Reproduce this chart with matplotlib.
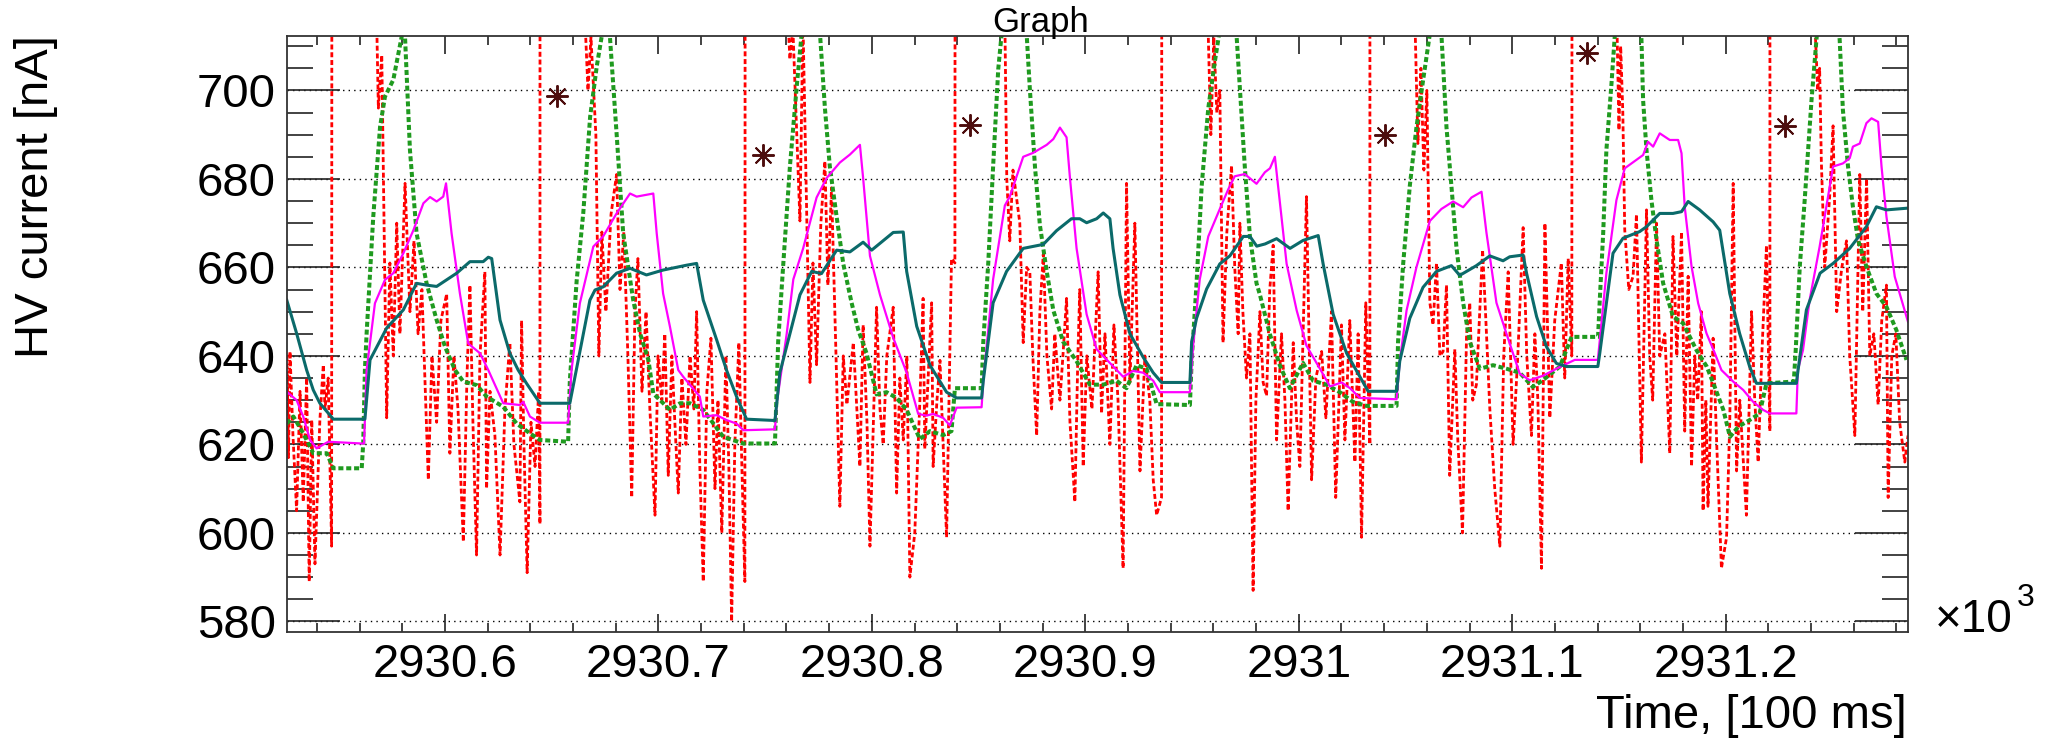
import matplotlib
matplotlib.use("Agg")
import matplotlib.pyplot as plt
from matplotlib.ticker import MultipleLocator, FuncFormatter
import numpy as np

plt.rcParams['font.family'] = ['Liberation Sans', 'DejaVu Sans']

# time origin, in units of 100 ms; series times are offsets from it
T0 = 2930000

# channel 1 (red, dotted): raw readings, with a reset spike every cycle
red_t = ([526.0, 526.7, 527.4, 528.8, 530.5, 532.1, 533.6, 535.2, 536.4, 537.6, 539.1, 541.4, 543.0, 543.8, 545.3, 546.9, 547.7]
         + [568.0, 568.8, 570.4, 572.7, 574.2, 575.8, 577.4, 578.9, 581.3, 583.6, 585.5, 587.4, 589.2, 592.2, 593.9, 596.1,
            598.1, 600.8, 602.3, 604.2, 606.1, 608.6, 610.3, 611.7, 613.1, 614.8, 616.4, 618.7, 619.5, 621.1, 623.4, 625.8,
            628.1, 630.4, 632.3, 635.1, 635.9, 637.0, 638.5, 640.3, 642.2, 643.9, 644.5, 644.7]
         + [665.6, 667.0, 668.4, 670.7, 672.1, 673.5, 675.4, 677.8, 680.4, 682.0, 683.8, 685.7, 687.5, 689.0, 690.4, 692.3,
            694.2, 696.0, 698.4, 699.8, 701.6, 703.0, 704.6, 706.3, 707.7, 709.3, 711.0, 712.9, 714.8, 716.6, 717.9, 719.4,
            721.0, 722.7, 724.6, 726.5, 727.9, 729.7, 731.6, 733.0, 734.3, 735.8, 737.7, 739.1, 740.5, 741.3]
         + [760.7, 761.6, 763.0, 766.3, 767.7, 771.0, 772.4, 774.1, 776.1, 778.0, 779.4, 781.1, 783.2, 785.0, 786.6, 788.3,
            791.3, 794.4, 795.9, 797.7, 799.1, 802.2, 803.8, 805.3, 807.0, 810.0, 811.6, 813.1, 814.7, 816.4, 817.8, 820.1,
            822.5, 824.0, 824.8, 828.0, 828.7, 830.5, 831.9, 835.0, 837.3, 838.9, 839.8]
         + [862.3, 863.2, 864.6, 866.1, 869.3, 870.9, 872.5, 874.0, 875.4, 877.2, 878.7, 880.3, 882.0, 884.2, 885.7, 888.1,
            889.5, 891.2, 892.8, 895.1, 896.5, 897.4, 899.0, 900.7, 903.1, 906.0, 907.6, 909.2, 911.5, 913.4, 915.3, 917.7,
            919.3, 920.9, 923.2, 925.6, 927.9, 930.2, 931.8, 933.4, 935.7, 936.5]
         + [957.4, 958.8, 960.2, 961.6, 963.0, 964.5, 966.3, 968.5, 970.0, 971.6, 972.4, 973.8, 975.5, 977.1, 978.6, 979.9,
            981.8, 983.3, 984.9, 986.4, 988.0, 989.6, 991.9, 993.5, 995.0, 997.4, 999.0, 1000.5, 1003.6, 1006.0, 1008.0,
            1010.7, 1012.7, 1015.3, 1017.3, 1020.0, 1021.6, 1023.9, 1026.3, 1027.8, 1029.4, 1031.4, 1033.3, 1033.5]
         + [1054.4, 1055.8, 1057.2, 1058.6, 1060.0, 1061.4, 1062.9, 1064.5, 1066.1, 1067.6, 1069.2, 1070.7, 1073.1, 1074.5,
            1076.7, 1078.6, 1080.1, 1081.5, 1083.2, 1086.1, 1087.6, 1089.5, 1091.8, 1094.2, 1096.0, 1098.1, 1100.4, 1102.6,
            1105.1, 1106.8, 1109.0, 1110.6, 1112.0, 1113.7, 1115.3, 1117.6, 1119.9, 1123.0, 1124.6, 1126.2, 1127.9, 1128.8]
         + [1149.0, 1150.0, 1150.8, 1151.8, 1152.7, 1154.6, 1156.6, 1158.2, 1160.5, 1162.9, 1164.4, 1165.8, 1167.6, 1169.1,
            1171.5, 1173.8, 1175.3, 1177.1, 1179.3, 1180.8, 1182.4, 1184.0, 1185.5, 1186.9, 1188.6, 1189.4, 1190.7, 1191.7,
            1194.1, 1195.8, 1198.0, 1200.4, 1201.9, 1203.5, 1205.1, 1206.6, 1209.7, 1212.1, 1213.6, 1215.2, 1216.9, 1219.1,
            1220.7, 1220.9]
         + [1241.7, 1243.1, 1244.0, 1244.8, 1246.4, 1248.7, 1250.3, 1252.0, 1254.4, 1256.6, 1258.1, 1260.5, 1262.8, 1264.2,
            1266.0, 1267.5, 1269.4, 1271.4, 1273.1, 1275.3, 1276.1, 1277.8, 1279.7, 1281.5, 1283.9, 1285.4])
red_v = ([640, 617, 641, 622, 605, 632, 607, 635, 589, 625.5, 593, 625.5, 638, 628, 635, 597, 1500]
         + [716, 696, 708, 626, 661, 640, 670, 645, 679, 650, 666, 645, 655, 612, 640, 625, 648, 654, 618, 640, 628, 598,
            635, 656, 625, 595, 640, 659, 610, 632, 622, 595, 628, 643, 620, 607, 648, 620, 591, 625, 615, 632, 602, 1500]
         + [716, 700, 712, 690, 640, 668, 650, 672, 681, 655, 668, 640, 608, 650, 662, 632, 650, 628, 604, 640, 630, 645,
            613, 640, 625, 609, 635, 620, 640, 628, 650, 615, 589, 632, 644, 610, 630, 600, 640, 615, 580, 620, 643, 615,
            589, 1500]
         + [716, 707, 714, 670.5, 716, 634, 661, 638, 670, 684, 656, 678, 640, 606, 640, 629, 643, 615, 647, 625, 597, 651,
            628, 620, 640, 651, 609, 635, 621, 640, 590, 600, 630, 653, 619, 652, 615, 630, 639, 599, 662, 661, 1500]
         + [716, 680, 666, 682, 670, 643, 660, 659, 640, 622, 650, 663, 640, 628, 645, 630, 640, 653, 625, 607, 640, 655,
            615, 640, 628, 659, 627, 645, 620, 647, 630, 592, 679, 634, 670, 614, 640, 630, 612, 604, 608, 1500]
         + [716, 690, 712, 695, 700, 643, 668, 683, 660, 645, 670, 650, 635, 645, 587, 630, 650, 634, 631, 655, 665, 621,
            645, 630, 605, 643, 625, 615, 676, 612, 635, 641, 626, 650, 608, 647, 621, 648, 616, 645, 599, 652, 620, 1500]
         + [716, 688, 705, 682, 700, 652, 647, 661, 640, 641, 656, 613, 641.5, 621, 600, 645, 652, 630, 633.5, 664, 648.5,
            628, 610, 597, 640, 659, 620, 640, 669, 640, 622, 645, 630, 592, 670, 626, 648, 661, 635, 662, 640, 1500]
         + [716, 691, 710, 695, 668.5, 655, 658, 672, 616, 673, 640, 630, 670, 640, 645, 618, 667, 640, 668, 623, 658, 615,
            640, 630, 650, 605, 630, 606, 644, 620, 592, 599, 625, 679, 614, 630, 604, 650, 630, 616, 640, 665, 623, 1500]
         + [716, 700, 705, 684, 660, 676, 692, 650, 660, 666, 640, 622, 681, 650, 680, 640, 645, 629, 648, 656, 608, 640,
            645, 625, 616, 622])

# channel 2 (green, thick dotted)
green_t = ([525.9, 529.0, 533.6, 538.3, 544.6, 547.7, 561.0]
           + [561.7, 562.5, 563.3, 566.4, 569.6, 571.9, 575.8, 579.7, 580.5, 581.3, 583.6, 586.7, 591.4, 596.1, 600.0,
              604.7, 608.6, 614.9, 619.5, 627.3, 633.6, 639.8, 644.5, 657.7]
           + [658.5, 661.7, 664.8, 668.0, 671.1, 673.4, 675.3, 677.3, 680.4, 683.5, 688.2, 691.4, 695.3, 697.6, 705.4,
              710.1, 714.8, 721.0, 730.4, 739.8, 754.6]
           + [756.1, 758.5, 761.6, 764.7, 767.1, 771.0, 775.7, 778.0, 780.3, 783.5, 786.6, 790.5, 793.6, 797.5, 802.2,
              806.9, 811.6, 816.3, 822.5, 827.2, 833.4, 837.3, 838.9, 851.4]
           + [852.2, 854.5, 856.8, 859.2, 860.8, 866.5, 872.5, 874.0, 876.4, 878.7, 881.9, 885.0, 889.6, 895.9, 902.1,
              908.4, 914.6, 919.3, 924.0, 928.7, 933.4, 949.0]
           + [949.8, 952.1, 954.5, 957.6, 960.7, 962.7, 966.8, 970.8, 972.4, 974.7, 977.1, 980.2, 981.8, 986.4, 991.1,
              995.8, 1002.0, 1006.7, 1013.0, 1019.2, 1025.4, 1031.7, 1045.8]
           + [1046.5, 1048.9, 1052.0, 1055.1, 1058.2, 1061.4, 1064.2, 1066.8, 1069.2, 1071.5, 1073.9, 1077.0, 1080.1,
              1084.8, 1091.0, 1097.3, 1103.5, 1109.6, 1114.3, 1122.3, 1127.8, 1140.2]
           + [1141.0, 1142.6, 1144.1, 1146.5, 1148.0, 1154.1, 1160.5, 1161.3, 1162.9, 1165.2, 1167.6, 1170.7, 1175.3,
              1180.0, 1186.3, 1191.1, 1194.2, 1198.9, 1202.0, 1205.9, 1211.2, 1215.9, 1219.1, 1231.9]
           + [1232.8, 1234.7, 1237.0, 1240.2, 1242.5, 1247.8, 1253.4, 1254.9, 1257.3, 1259.6, 1262.0, 1265.9, 1270.6,
              1275.3, 1279.9, 1284.7])
green_v = ([624.7, 626.3, 622.5, 618.0, 618.0, 614.6, 614.6]
           + [620.2, 636.8, 645.1, 671.4, 691.8, 698.6, 702.4, 712.1, 716.0, 712.0, 686.5, 667.7, 656.4, 648.1, 642.1,
              636.8, 634.2, 633.4, 630.8, 628.5, 624.7, 622.5, 621.0, 620.6]
           + [634.4, 657.0, 672.3, 694.0, 705.4, 712.1, 722.0, 712.0, 690.3, 667.7, 652.6, 645.1, 639.1, 631.5, 627.8,
              629.3, 629.3, 627.8, 621.7, 620.2, 620.2]
           + [643.2, 660.8, 682.8, 700.4, 712.8, 735.0, 712.8, 696.0, 682.8, 671.4, 660.8, 652.0, 645.9, 640.6, 631.3,
              631.8, 630.5, 627.8, 621.2, 623.0, 622.1, 623.0, 632.7, 632.7]
           + [643.2, 660.8, 682.8, 704.8, 712.8, 745.0, 712.8, 700.4, 682.8, 669.6, 659.1, 650.3, 643.2, 638.8, 633.5,
              633.5, 634.4, 632.7, 637.9, 637.1, 629.1, 628.9]
           + [638.8, 656.4, 678.4, 696.0, 706.6, 712.8, 730.0, 712.8, 700.4, 682.8, 667.0, 656.4, 653.8, 645.0, 637.9,
              632.7, 638.4, 634.4, 633.5, 631.8, 629.6, 628.7, 628.7]
           + [643.2, 660.8, 678.4, 691.6, 702.2, 712.8, 722.0, 712.8, 691.6, 678.4, 664.3, 652.0, 643.2, 637.1, 637.9,
              637.1, 636.2, 633.0, 634.5, 637.6, 644.3, 644.3]
           + [652.6, 667.7, 686.5, 701.6, 712.1, 750.0, 712.1, 697.8, 686.5, 675.2, 666.2, 656.4, 648.9, 647.4, 641.3,
              637.6, 633.8, 627.8, 621.7, 624.0, 625.5, 627.0, 633.8, 634.2]
           + [641.3, 660.2, 675.2, 697.8, 711.4, 740.0, 711.4, 695.6, 682.8, 673.7, 666.2, 660.2, 654.1, 651.1, 645.9,
              639.1])

# channel 3 (magenta, solid)
magenta_t = ([525.9, 530.5, 533.6, 536.8, 539.9, 545.3, 561.0]
             + [562.1, 563.3, 567.2, 571.9, 575.8, 580.5, 585.2, 589.9, 593.0, 596.1, 599.2, 600.5, 603.1, 607.0,
                610.9, 616.4, 620.3, 627.3, 635.1, 636.7, 639.8, 644.5, 657.7]
             + [659.3, 663.2, 669.5, 674.1, 680.4, 686.7, 689.8, 697.6, 699.2, 702.2, 705.4, 709.3, 711.6, 719.4,
                721.0, 727.3, 731.9, 736.6, 739.8, 754.6]
             + [755.4, 760.1, 763.2, 767.8, 774.1, 778.8, 785.0, 789.7, 794.4, 795.9, 799.1, 803.8, 810.0, 816.3,
                821.7, 825.6, 828.7, 833.4, 836.5, 839.7, 851.4]
             + [852.2, 856.8, 862.3, 864.6, 870.9, 875.6, 881.9, 885.0, 888.1, 891.2, 892.8, 895.9, 900.6, 905.3,
                911.5, 917.7, 922.4, 927.1, 931.8, 934.9, 949.0]
             + [950.5, 953.6, 957.6, 963.0, 966.9, 970.0, 974.7, 980.2, 984.1, 986.5, 988.8, 990.3, 994.3, 999.0,
                1003.6, 1009.9, 1014.6, 1020.1, 1024.0, 1028.6, 1045.8]
             + [1047.3, 1050.5, 1055.1, 1061.4, 1066.8, 1072.3, 1077.0, 1080.9, 1085.6, 1087.9, 1092.6, 1097.3,
                1103.5, 1108.2, 1114.3, 1122.3, 1129.3, 1140.1]
             + [1144.1, 1148.8, 1152.7, 1158.2, 1161.3, 1163.6, 1166.0, 1169.1, 1173.8, 1177.7, 1179.3, 1180.8,
                1184.0, 1187.1, 1191.0, 1194.9, 1198.0, 1203.5, 1208.2, 1212.9, 1217.5, 1220.7, 1233.1]
             + [1233.8, 1236.2, 1239.3, 1244.0, 1250.3, 1254.9, 1258.1, 1259.6, 1262.8, 1265.9, 1268.3, 1271.4,
                1273.0, 1275.3, 1279.2, 1285.4])
magenta_v = ([631.9, 630.0, 626.3, 621.0, 619.1, 620.6, 620.2]
             + [620.2, 636.8, 651.9, 657.2, 658.7, 663.2, 668.4, 674.5, 675.9, 674.9, 676.0, 679.0, 667.7, 654.1,
                642.8, 640.6, 636.8, 629.3, 628.9, 629.6, 626.3, 624.9, 624.9]
             + [636.8, 651.9, 664.7, 667.0, 672.2, 676.7, 676.0, 676.7, 667.7, 654.1, 646.6, 636.8, 635.3, 630.8,
                626.3, 626.6, 625.5, 624.7, 623.2, 623.4]
             + [629.1, 645.0, 657.3, 664.3, 675.8, 680.2, 683.7, 685.5, 687.7, 680.2, 662.6, 653.8, 644.1, 636.2,
                626.9, 626.5, 626.9, 626.0, 624.3, 628.3, 628.4]
             + [634.4, 657.3, 674.0, 676.0, 685.0, 685.9, 687.7, 689.0, 691.6, 689.4, 680.2, 664.3, 649.4, 641.5,
                638.4, 635.3, 636.6, 636.2, 634.4, 631.8, 631.8]
             + [642.3, 657.3, 667.0, 673.2, 677.6, 680.6, 681.1, 678.9, 681.5, 682.4, 685.0, 678.4, 660.8, 650.3,
                642.3, 637.1, 633.1, 634.0, 632.7, 630.5, 630.2]
             + [638.8, 650.3, 660.0, 670.5, 673.2, 674.9, 673.6, 675.8, 677.1, 667.9, 652.0, 645.0, 636.0, 634.5,
                635.5, 637.5, 639.1, 639.1]
             + [658.7, 675.2, 682.4, 684.3, 685.4, 688.4, 687.3, 690.3, 688.8, 688.8, 685.8, 673.7, 660.2, 651.9,
                645.1, 640.6, 636.8, 634.2, 632.3, 629.6, 627.8, 627.0, 627.0]
             + [636.8, 641.3, 652.6, 664.7, 682.8, 683.5, 684.7, 687.3, 688.0, 692.6, 693.7, 692.9, 682.8, 671.5,
                657.9, 647.7])

# channel 4 (teal, solid)
teal_t = ([525.9, 530.5, 535.2, 538.3, 541.4, 547.7, 561.0, 562.5, 564.9, 572.7, 580.5, 586.7, 591.4, 596.1, 605.5,
           611.7, 617.9, 620.3, 621.9, 625.8, 630.4, 634.3, 638.2, 644.5, 657.7]
          + [658.5, 667.9, 670.3, 674.1, 680.4, 686.7, 694.4, 702.2, 713.2, 717.9, 721.0, 727.3, 731.9, 736.6, 741.3,
             754.6]
          + [756.9, 761.6, 766.3, 771.8, 776.4, 783.5, 789.7, 795.9, 799.9, 810.0, 814.7, 816.3, 821.0, 827.2, 835.0,
             839.7, 851.4]
          + [852.2, 856.8, 863.1, 870.9, 880.3, 886.5, 893.5, 897.4, 900.6, 905.3, 908.4, 911.5, 913.0, 916.2, 920.9,
             927.1, 931.8, 935.7, 949.0]
          + [949.8, 952.1, 956.8, 963.0, 967.7, 974.0, 977.1, 980.3, 984.2, 989.6, 995.9, 1002.0, 1009.1, 1011.4,
             1016.1, 1022.4, 1028.6, 1032.5, 1045.8]
          + [1047.3, 1052.0, 1058.2, 1064.5, 1071.5, 1075.4, 1083.2, 1089.5, 1095.7, 1098.8, 1105.1, 1106.7, 1111.4,
             1116.0, 1120.7, 1125.4, 1140.1]
          + [1141.0, 1147.2, 1151.9, 1159.7, 1162.9, 1169.1, 1175.3, 1179.3, 1182.4, 1187.8, 1194.1, 1197.2, 1201.9,
             1206.5, 1211.2, 1214.4, 1233.1]
          + [1233.9, 1237.8, 1244.2, 1250.3, 1258.1, 1265.9, 1270.6, 1275.3, 1285.4])
teal_v = ([652.6, 645.1, 636.8, 632.3, 629.3, 625.7, 625.7, 625.7, 639.1, 646.3, 650.4, 656.4, 656.0, 655.7, 658.7,
           661.3, 661.3, 662.3, 662.0, 648.1, 640.6, 636.8, 633.8, 629.3, 629.3]
          + [629.3, 652.6, 654.9, 655.6, 658.7, 659.8, 658.3, 659.4, 660.5, 660.9, 652.6, 643.6, 636.8, 630.8, 625.7,
             625.4]
          + [636.2, 645.0, 653.8, 659.1, 658.6, 663.9, 663.5, 665.7, 663.9, 667.9, 668.0, 659.1, 646.7, 637.9, 631.8,
             630.5, 630.5]
          + [634.4, 652.0, 659.1, 664.3, 665.2, 668.3, 671.0, 671.0, 670.1, 671.0, 672.3, 671.0, 664.3, 653.8, 645.0,
             639.7, 636.2, 634.0, 634.0]
          + [643.2, 648.5, 655.1, 660.8, 662.6, 667.0, 667.0, 664.8, 665.3, 666.5, 664.3, 666.1, 667.2, 660.8, 649.4,
             640.6, 635.3, 632.0, 632.0]
          + [638.8, 648.5, 655.5, 659.1, 660.4, 658.2, 660.4, 662.6, 661.5, 662.4, 662.8, 658.7, 648.9, 642.1, 638.3,
             637.6, 637.6]
          + [640.6, 663.2, 666.6, 668.1, 669.2, 672.2, 672.2, 672.6, 674.9, 673.0, 670.3, 668.4, 654.1, 645.1, 637.6,
             633.8, 633.8]
          + [636.8, 650.4, 658.7, 660.9, 664.3, 669.2, 673.7, 673.0, 673.4])

# single readings marked with asterisks
star_t = [652.3, 749.1, 845.9, 1040.3, 1135.0, 1227.6]
star_v = [698.8, 685.4, 692.1, 689.9, 708.4, 692.0]


def to_axis(t):
    # plotted in thousands of 100 ms units, hence the x10^3 note
    return (T0 + np.asarray(t)) / 1000.0


W, H = 2048, 741
fig = plt.figure(figsize=(W / 100, H / 100), dpi=100)
ax = fig.add_axes([287 / W, 1 - 632 / H, (1908 - 287) / W, (632 - 36) / H])

ax.plot(to_axis(red_t), red_v, color='#ff0000', lw=2.0, ls=(0, (1.8, 1.0)))
ax.plot(to_axis(green_t), green_v, color='#1f9a1f', lw=2.9, ls=(0, (1.25, 0.7)))
ax.plot(to_axis(magenta_t), magenta_v, color='#ff00ff', lw=1.6)
ax.plot(to_axis(teal_t), teal_v, color='#0b6a6a', lw=2.2)
ax.plot(to_axis(star_t), star_v, ls='none', marker=(8, 2, 0), ms=16, mew=1.4, color='#4d0d0d')

ax.set_xlim(to_axis(526.0), to_axis(1285.4))
ax.set_ylim(577.6, 712.3)

ax.xaxis.set_major_locator(MultipleLocator(0.1))
ax.xaxis.set_minor_locator(MultipleLocator(0.02))
ax.yaxis.set_major_locator(MultipleLocator(20))
ax.yaxis.set_minor_locator(MultipleLocator(5))
ax.xaxis.set_major_formatter(FuncFormatter(lambda v, p: ('%.1f' % v).rstrip('0').rstrip('.')))

ax.tick_params(which='both', direction='in', top=True, right=True, color='#222222', width=1.2,
               labelsize=34, pad=8)
ax.tick_params(axis='x', which='major', length=13)
ax.tick_params(axis='x', which='minor', length=6.5)
ax.tick_params(axis='y', which='major', length=38)
ax.tick_params(axis='y', which='minor', length=19)

ax.yaxis.grid(True, which='major', color='black', lw=1.0, ls=(0, (1, 3)))
for s in ax.spines.values():
    s.set_color('#333333')
    s.set_linewidth(1.3)

fig.text(1041 / W, 1 - 32 / H, 'Graph', ha='center', va='baseline', fontsize=25)
fig.text(1907 / W, 1 - 728 / H, 'Time, [100 ms]', ha='right', va='baseline', fontsize=34)
fig.text(14 / W, 1 - 35 / H, 'HV current [nA]', rotation=90, ha='left', va='top', fontsize=34)
fig.text(1935 / W, 1 - 632 / H, '\u00d710', ha='left', va='baseline', fontsize=33)
fig.text(2017 / W, 1 - 606 / H, '3', ha='left', va='baseline', fontsize=23)

fig.savefig('out.png', dpi=100)
